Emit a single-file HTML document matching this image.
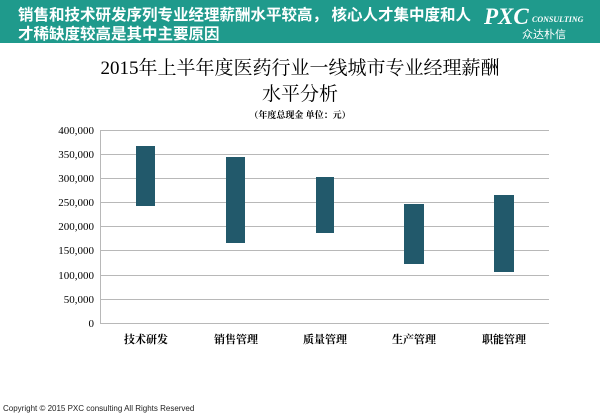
<!DOCTYPE html>
<html><head><meta charset="utf-8"><style>
body{margin:0;width:600px;height:415px;background:#fff;overflow:hidden;font-family:"Liberation Sans","Noto Sans CJK SC",sans-serif}
</style></head><body>
<svg width="600" height="415" xmlns="http://www.w3.org/2000/svg" style="position:absolute;left:0;top:0">
<rect x="0" y="0" width="600" height="43" fill="#1f9a8c"/>
<text x="18" y="20" font-size="15.5" font-weight="bold" fill="#fff" font-family="Noto Sans CJK SC,sans-serif">销售和技术研发序列专业经理薪酬水平较高，  核心人才集中度和人</text>
<text x="18" y="39" font-size="15.5" font-weight="bold" fill="#fff" font-family="Noto Sans CJK SC,sans-serif">才稀缺度较高是其中主要原因</text>
<text x="484" y="24" font-size="23" font-weight="bold" font-style="italic" fill="#fff" font-family="Liberation Serif,serif">PXC</text>
<text x="532" y="22" font-size="8" font-weight="bold" font-style="italic" fill="#fff" font-family="Liberation Serif,serif">CONSULTING</text>
<text x="522" y="38" font-size="11" fill="#fff" font-family="Noto Sans CJK SC,sans-serif">众达朴信</text>
<text x="300" y="74" font-size="19" text-anchor="middle" fill="#000" font-family="Liberation Serif,Noto Serif CJK SC,serif">2015年上半年度医药行业一线城市专业经理薪酬</text>
<text x="300" y="100" font-size="19" text-anchor="middle" fill="#000" font-family="Liberation Serif,Noto Serif CJK SC,serif">水平分析</text>
<text x="300" y="118" font-size="9" font-weight="bold" text-anchor="middle" fill="#000" font-family="Noto Serif CJK SC,serif">（年度总现金  单位：元）</text>
<g stroke="#b8b8b8" stroke-width="1">
<line x1="100" y1="130.5" x2="549" y2="130.5"/>
<line x1="100" y1="154.5" x2="549" y2="154.5"/>
<line x1="100" y1="178.5" x2="549" y2="178.5"/>
<line x1="100" y1="202.5" x2="549" y2="202.5"/>
<line x1="100" y1="226.5" x2="549" y2="226.5"/>
<line x1="100" y1="250.5" x2="549" y2="250.5"/>
<line x1="100" y1="275.5" x2="549" y2="275.5"/>
<line x1="100" y1="299.5" x2="549" y2="299.5"/>
<line x1="100" y1="323.5" x2="549" y2="323.5"/>
<line x1="100.5" y1="130" x2="100.5" y2="323"/>
</g>
<g font-size="11" text-anchor="end" fill="#000" font-family="Liberation Serif,serif">
<text x="94" y="134">400,000</text><text x="94" y="158">350,000</text><text x="94" y="182">300,000</text>
<text x="94" y="206">250,000</text><text x="94" y="230">200,000</text><text x="94" y="254">150,000</text>
<text x="94" y="279">100,000</text><text x="94" y="303">50,000</text><text x="94" y="327">0</text>
</g>
<g fill="#22596b">
<rect x="136" y="146" width="19" height="60"/>
<rect x="226" y="157" width="19" height="86"/>
<rect x="316" y="177" width="18" height="56"/>
<rect x="404" y="204" width="20" height="60"/>
<rect x="494" y="195" width="20" height="77"/>
</g>
<g font-size="11" font-weight="bold" text-anchor="middle" fill="#000" font-family="Noto Serif CJK SC,serif">
<text x="146" y="343">技术研发</text><text x="236" y="343">销售管理</text><text x="325" y="343">质量管理</text>
<text x="414" y="343">生产管理</text><text x="504" y="343">职能管理</text>
</g>
<text x="3" y="411" font-size="8" fill="#222">Copyright © 2015  PXC consulting All Rights Reserved</text>
</svg>
</body></html>
